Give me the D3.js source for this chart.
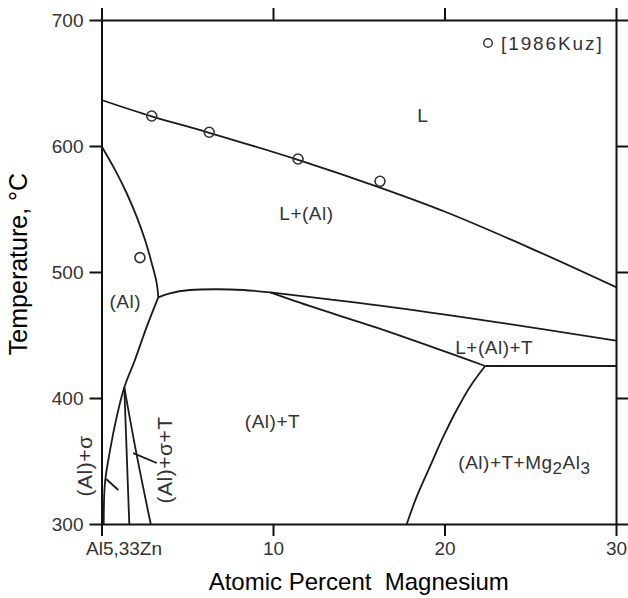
<!DOCTYPE html>
<html>
<head>
<meta charset="utf-8">
<script src="https://cdn.jsdelivr.net/npm/d3@7"></script>
<style>
	body { margin: 0; background: #fff; }
	svg { display: block; font-family: "Liberation Sans", Arial, sans-serif; }
</style>
</head>
<body>
<div id="chart"></div>
<script>
// Axis ticks
const tempTicks = [300, 400, 500, 600, 700];
const mgTicks = [0, 10, 20, 30];
const mgTickLabels = ["Al5,33Zn", "10", "20", "30"];

// Phase boundaries, [at.% Mg, temperature °C]
const liquidus = [[0, 636.5], [2.93, 623.5], [6.28, 610.5], [11.46, 589], [16.24, 567], [20, 548], [25, 519], [30, 488]];
const alSolidus = [[0, 600], [0.79, 581], [1.47, 562.5], [2.05, 543.9], [2.54, 525.4], [2.93, 507], [3.22, 491], [3.31, 479.9]];
const alSolvus = [[3.31, 479.9], [2.64, 456.6], [1.95, 430.2], [1.33, 408.5], [0.89, 385.2], [0.5, 358.7], [0.2, 332.3], [0.13, 300]];
const sigmaMid = [[1.33, 408.5], [1.62, 300]];
const sigmaRight = [[1.33, 408.5], [2.05, 355], [2.87, 300]];
const hump = [[3.31, 479.9], [3.99, 483.1], [5.16, 485.7], [6.72, 486.3], [8.27, 485.7], [9.83, 483.9]];
const upperL = [[9.83, 483.9], [17, 472], [30, 445.5]];
const lowerL = [[9.83, 483.9], [11, 478.2], [16, 456], [22.37, 425.4]];
const eutectic = [[22.37, 425.4], [30, 425.4]];
const mgBoundary = [[22.37, 425.4], [21.49, 409], [20.71, 390.5], [19.93, 369.3], [19.15, 345.5], [18.38, 321.7], [17.8, 300]];
const leaderSigma = [[0.27, 335.7], [0.98, 327]];
const leaderSigmaT = [[1.85, 356.3], [3.22, 348.4]];

// [1986Kuz] measurements
const kuzMg = [2.93, 6.28, 11.46, 16.24, 2.24];
const kuzTemp = [623.8, 610.9, 589.7, 572, 511.4];

// Phase field labels: text, at.% Mg, °C
const fieldLabels = [
	["L", 18.73, 624.6],
	["L+(Al)", 11.95, 546.8],
	["(Al)", 1.39, 477],
	["(Al)+T", 9.97, 381.2],
	["L+(Al)+T", 22.9, 440.5]
];

const width = 628, height = 598;
const x = d3.scaleLinear().domain([0, 30]).range([101.5, 616]);
const y = d3.scaleLinear().domain([300, 700]).range([524, 20]);

const svg = d3.select("#chart").append("svg")
	.attr("width", width)
	.attr("height", height);

// Axes
const tickFmt = d => mgTickLabels[mgTicks.indexOf(d)];
const gx = svg.append("g")
	.attr("transform", `translate(0,${y(300)})`)
	.call(d3.axisBottom(x).tickValues(mgTicks).tickFormat(tickFmt).tickSize(12).tickSizeOuter(0).tickPadding(6));
gx.selectAll("text").filter(d => d === 0).attr("dx", 22);

const gxTop = svg.append("g")
	.attr("transform", `translate(0,${y(700)})`)
	.call(d3.axisTop(x).tickValues(mgTicks).tickFormat("").tickSize(12).tickSizeOuter(0));

const gy = svg.append("g")
	.attr("transform", `translate(${x(0)},0)`)
	.call(d3.axisLeft(y).tickValues(tempTicks).tickSize(12).tickSizeOuter(0).tickPadding(6));

const gyRight = svg.append("g")
	.attr("transform", `translate(${x(30)},0)`)
	.call(d3.axisRight(y).tickValues(tempTicks).tickFormat("").tickSize(12).tickSizeOuter(0));

[gx, gxTop, gy, gyRight].forEach(g => {
	g.select(".domain").attr("stroke", "#111").attr("stroke-width", 2);
	g.selectAll(".tick line").attr("stroke", "#111").attr("stroke-width", 2);
	g.selectAll(".tick text")
		.attr("font-size", "19px")
		.attr("font-family", "'Liberation Sans', Arial, sans-serif")
		.attr("fill", "#333");
});

// Boundaries
const smooth = d3.line()
	.x(d => x(d[0]))
	.y(d => y(d[1]))
	.curve(d3.curveCatmullRom);
const mono = d3.line()
	.x(d => x(d[0]))
	.y(d => y(d[1]))
	.curve(d3.curveMonotoneX);

const bounds = svg.append("g")
	.attr("fill", "none")
	.attr("stroke", "#1a1a1a")
	.attr("stroke-width", 1.8);

[liquidus, alSolidus, alSolvus, sigmaMid, sigmaRight, hump, mgBoundary, leaderSigma, leaderSigmaT]
	.forEach(b => bounds.append("path").attr("d", smooth(b)));
[upperL, lowerL, eutectic]
	.forEach(b => bounds.append("path").attr("d", mono(b)));

// Data points
svg.append("g")
	.selectAll("circle")
	.data(kuzMg)
	.join("circle")
	.attr("cx", d => x(d))
	.attr("cy", (d, i) => y(kuzTemp[i]))
	.attr("r", 5)
	.attr("fill", "none")
	.attr("stroke", "#333")
	.attr("stroke-width", 1.6);

// Legend
const legend = svg.append("g");
legend.append("circle")
	.attr("cx", 488).attr("cy", 43).attr("r", 4.3)
	.attr("fill", "none").attr("stroke", "#333").attr("stroke-width", 1.5);
legend.append("text")
	.attr("x", 501).attr("y", 50)
	.attr("font-size", "19px")
	.attr("letter-spacing", "1.9px")
	.attr("fill", "#333")
	.text("[1986Kuz]");

// Field labels
const labels = svg.append("g")
	.attr("font-size", "19px")
	.attr("letter-spacing", "0.5px")
	.attr("fill", "#333")
	.attr("text-anchor", "middle");

labels.selectAll("text.field")
	.data(fieldLabels)
	.join("text")
	.attr("class", "field")
	.attr("x", d => x(d[1]))
	.attr("y", d => y(d[2]))
	.attr("dy", "0.35em")
	.text(d => d[0]);

const mgLabel = labels.append("text")
	.attr("x", x(24.66))
	.attr("y", y(349))
	.attr("dy", "0.35em");
mgLabel.append("tspan").text("(Al)+T+Mg");
mgLabel.append("tspan").attr("baseline-shift", "-30%").attr("font-size", "17px").text("2");
mgLabel.append("tspan").text("Al");
mgLabel.append("tspan").attr("baseline-shift", "-30%").attr("font-size", "17px").text("3");

labels.append("text")
	.attr("transform", `translate(${x(-0.96)},${y(346)}) rotate(-90)`)
	.attr("font-size", "21px")
	.attr("dy", "0.35em")
	.text("(Al)+σ");

labels.append("text")
	.attr("transform", `translate(${x(3.7)},${y(350.8)}) rotate(-90)`)
	.attr("font-size", "21px")
	.attr("dy", "0.35em")
	.text("(Al)+σ+T");

// Axis titles
svg.append("text")
	.attr("x", (x(0) + x(30)) / 2)
	.attr("y", 590)
	.attr("text-anchor", "middle")
	.attr("font-size", "24px")
	.attr("fill", "#000")
	.style("white-space", "pre")
	.text("Atomic Percent  Magnesium");

svg.append("text")
	.attr("transform", "translate(27,264) rotate(-90)")
	.attr("text-anchor", "middle")
	.attr("font-size", "25px")
	.attr("fill", "#000")
	.text("Temperature, °C");
</script>
</body>
</html>
